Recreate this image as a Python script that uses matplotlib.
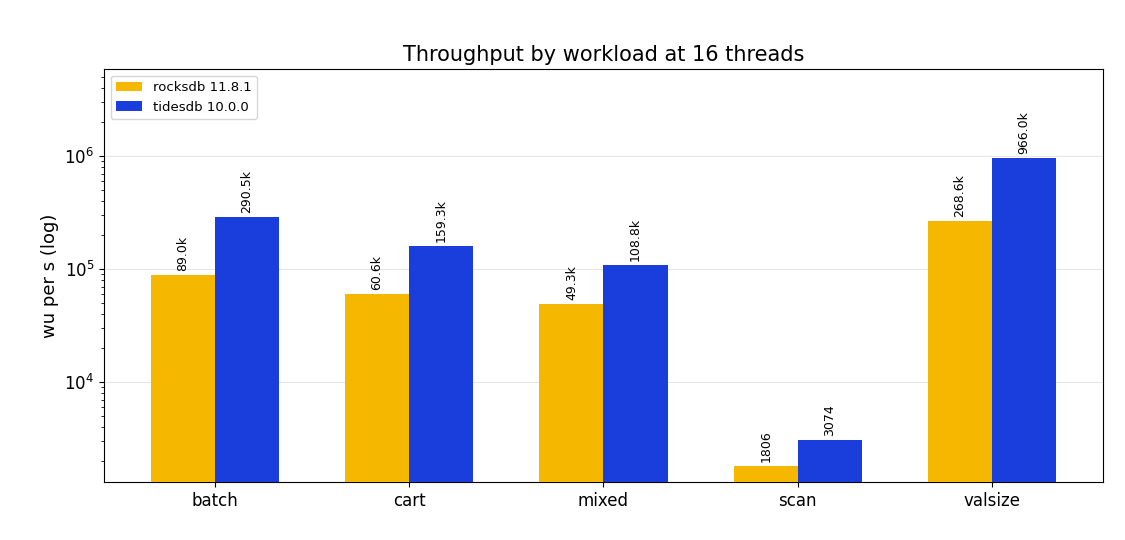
import matplotlib
matplotlib.use("Agg")
import matplotlib.pyplot as plt
import numpy as np

categories = ["batch", "cart", "mixed", "scan", "valsize"]
rocksdb = [89000, 60600, 49300, 1806, 268600]
tidesdb = [290500, 159300, 108800, 3074, 966000]
rocks_labels = ["89.0k", "60.6k", "49.3k", "1806", "268.6k"]
tides_labels = ["290.5k", "159.3k", "108.8k", "3074", "966.0k"]

fig = plt.figure(figsize=(11.25, 5.4), dpi=100)
ax = fig.add_axes([0.0924, 0.107, 0.888, 0.765])
x = np.arange(len(categories))
w = 0.33
b1 = ax.bar(x - w/2, rocksdb, w, color="#F5B700", label="rocksdb 11.8.1", zorder=3)
b2 = ax.bar(x + w/2, tidesdb, w, color="#1A3EDB", label="tidesdb 10.0.0", zorder=3)
ax.set_yscale("log")
ax.set_ylim(1303, 5.9e6)
ax.set_xlim(-0.57, 4.57)
ax.set_xticks(x)
ax.set_xticklabels(categories, fontsize=12)
ax.tick_params(axis="y", labelsize=12)
ax.set_ylabel("wu per s (log)", fontsize=13)
ax.set_title("Throughput by workload at 16 threads", fontsize=15)
ax.yaxis.grid(True, which="major", color="#e6e6e6", zorder=0)
for bars, labels in ((b1, rocks_labels), (b2, tides_labels)):
    for bar, lab in zip(bars, labels):
        ax.annotate(lab, (bar.get_x() + bar.get_width()/2, bar.get_height()),
                    xytext=(0, 3), textcoords="offset points", rotation=90,
                    ha="center", va="bottom", fontsize=9)
ax.legend(loc="upper left", fontsize=9.5)
fig.savefig("out.png", dpi=100)
